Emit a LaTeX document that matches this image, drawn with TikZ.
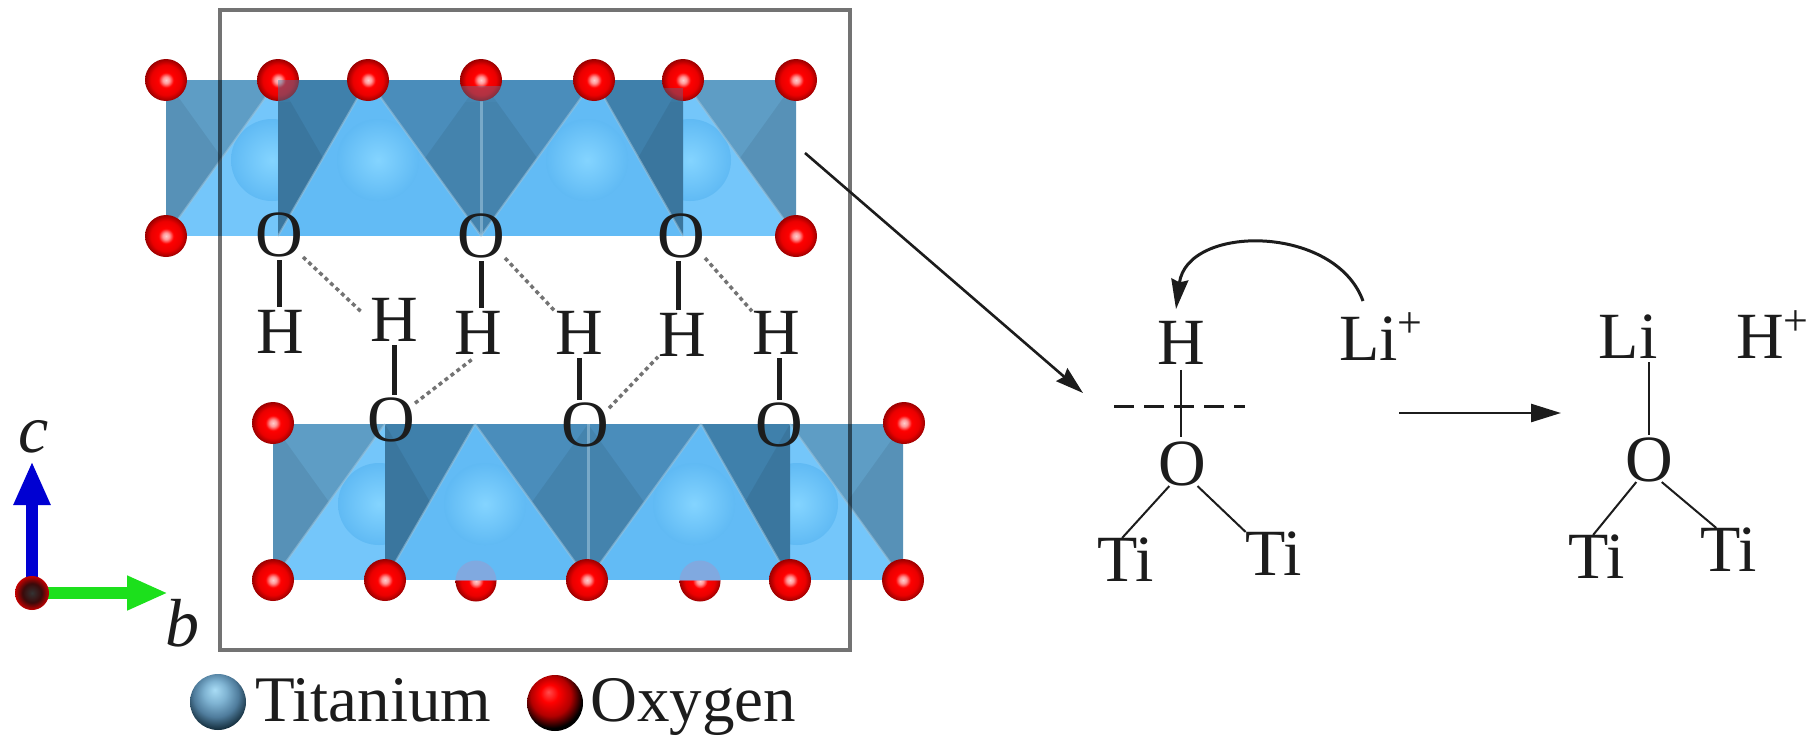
\documentclass[tikz,border=0pt]{standalone}
\usepackage{fontspec}
\setmainfont{Liberation Serif}
\usetikzlibrary{arrows.meta,calc}
\definecolor{ink}{HTML}{1C1C1C}
\definecolor{lightb}{HTML}{62BBF5}
\definecolor{sideb}{HTML}{74C6FA}
\definecolor{outerb}{HTML}{5E9DC5}
\definecolor{midb}{HTML}{4A8DBB}
\definecolor{deepb}{HTML}{3F80AB}
\definecolor{edgeb}{HTML}{9CC3DA}
\definecolor{axblue}{HTML}{0000D2}
\definecolor{axgreen}{HTML}{1CE01C}
\definecolor{tia}{HTML}{84D4FF}
\definecolor{tib}{HTML}{60BAF4}
\definecolor{lega}{HTML}{A9DCF5}
\definecolor{legb}{HTML}{7FB3D2}
\definecolor{legc}{HTML}{4F7C9C}
\definecolor{legd}{HTML}{16303F}
\definecolor{axa}{HTML}{333333}
\definecolor{axb}{HTML}{3A0A0A}
\definecolor{axc}{HTML}{C40000}
\definecolor{ghost}{HTML}{9A9BD0}
\pgfdeclareradialshading{redatom}{\pgfpoint{0bp}{0bp}}{color(0bp)=(red!20!white); color(4bp)=(red!40!white); color(9bp)=(red); color(18bp)=(red!92!black); color(25bp)=(red!60!black); color(50bp)=(red!60!black)}
\pgfdeclareradialshading{tiball}{\pgfpoint{0bp}{0bp}}{color(0bp)=(tia); color(25bp)=(tib); color(50bp)=(tib)}
\pgfdeclareradialshading{legti}{\pgfpoint{-3bp}{11bp}}{color(0bp)=(lega); color(10bp)=(legb); color(20bp)=(legc); color(29bp)=(legd); color(50bp)=(legd)}
\pgfdeclareradialshading{legox}{\pgfpoint{-6bp}{10bp}}{color(0bp)=(red!70!white); color(8bp)=(red); color(18bp)=(red!70!black); color(27bp)=(black); color(50bp)=(black)}
\pgfdeclareradialshading{axatom}{\pgfpoint{0bp}{0bp}}{color(0bp)=(axa); color(14bp)=(axb); color(25bp)=(axc); color(50bp)=(axc)}
\newcommand\polylayer{%
  \fill[lightb] (166,80) rectangle (796,236);
  \fill[sideb] (166,80) rectangle (278,236);
  \fill[sideb] (683,80) rectangle (796,236);
  \shade[shading=tiball] (272,160) circle (41pt);
  \shade[shading=tiball] (378,160) circle (41pt);
  \shade[shading=tiball] (587,160) circle (41pt);
  \shade[shading=tiball] (690,160) circle (41pt);
  \fill[outerb] (166,80) -- (278,80) -- (166,236) -- cycle;
  \fill[deepb] (278,80) -- (368,80) -- (278,236) -- cycle;
  \fill[midb] (368,80) -- (481,80) -- (481,236) -- cycle;
  \fill[midb] (481,80) -- (594,80) -- (481,236) -- cycle;
  \fill[deepb] (594,80) -- (683,80) -- (683,236) -- cycle;
  \fill[outerb] (683,80) -- (796,80) -- (796,236) -- cycle;
  \fill[black,opacity=.07] (166,80) -- (222,158) -- (166,236) -- cycle
    (278,80) -- (323,158) -- (278,236) -- cycle
    (481,80) -- (425,158) -- (481,236) -- cycle
    (481,80) -- (537,158) -- (481,236) -- cycle
    (683,80) -- (638,158) -- (683,236) -- cycle
    (796,80) -- (740,158) -- (796,236) -- cycle;
  \draw[edgeb,line width=2pt,opacity=.55]
    (166,236) -- (278,80) (278,236) -- (368,80) (368,80) -- (481,236)
    (481,236) -- (594,80) (594,80) -- (683,236) (683,80) -- (796,236);
  \draw[edgeb,line width=3pt,opacity=.6] (481,80) -- (481,236);
}
\tikzset{
  chem/.style={inner sep=0pt,text depth=0pt,text=ink,font=\fontsize{66}{70}\selectfont},
  chemsup/.style={inner sep=0pt,anchor=base west,text=ink,font=\fontsize{66}{70}\selectfont},
  axlabel/.style={inner sep=0pt,text=ink,font=\fontsize{68}{72}\selectfont\itshape},
  legendtext/.style={inner sep=0pt,anchor=base west,text=ink,font=\fontsize{65}{68}\selectfont},
  thickbond/.style={line width=5pt,draw=ink,shorten >=3pt,shorten <=3pt},
  hbond/.style={line width=3.5pt,draw=black!55,dash pattern=on 4pt off 3.5pt},
  thinbond/.style={line width=2pt,draw=ink},
  bigarrow/.style={line width=2.6pt,draw=ink,-{Stealth[length=28pt,width=17pt,inset=3pt]}}
}
\newcommand\supplus{\raisebox{23pt}{\fontsize{44}{44}\selectfont +}}
\begin{document}
\begin{tikzpicture}[x=1pt,y=-1pt]
\useasboundingbox (0,0) rectangle (1819,744);
% upper layer
\polylayer
\foreach \x in {278,481,683}{\shade[shading=redatom] (\x,80) circle (21pt);}
\fill[deepb,opacity=.45] (278,80) -- (299,80) -- (299,102) -- (278,102) -- cycle;
\fill[midb,opacity=.35] (460,86) -- (502,86) -- (502,102) -- (460,102) -- cycle;
\fill[deepb,opacity=.35] (662,88) -- (683,88) -- (683,102) -- (662,102) -- cycle;
\foreach \x in {166,368,594,796}{\shade[shading=redatom] (\x,80) circle (21pt);}
\foreach \x in {166,796}{\shade[shading=redatom] (\x,236) circle (21pt);}
% lower layer
\begin{scope}[shift={(107,344)}]
\polylayer
\end{scope}
\begin{scope}
\clip (440,580) rectangle (740,620);
\foreach \x in {476,700}{\shade[shading=redatom] (\x,581) circle (20.5pt);}
\end{scope}
\begin{scope}
\clip (440,540) rectangle (740,580);
\foreach \x in {476,700}{\fill[ghost,opacity=.55] (\x,581) circle (20.5pt);}
\end{scope}
\foreach \x in {273,904}{\shade[shading=redatom] (\x,423) circle (21pt);}
\foreach \x in {273,385,587,790,903}{\shade[shading=redatom] (\x,580) circle (21pt);}
% cell frame
\draw[black,opacity=.55,line width=4pt] (220,10) rectangle (850,650);
% hydroxyl labels
\node[chem] (O1) at (279,235) {O};
\node[chem] (O2) at (481,236) {O};
\node[chem] (O3) at (681,236) {O};
\node[chem] (H1) at (280,332) {H};
\node[chem] (H2) at (394,320) {H};
\node[chem] (H3) at (478,333) {H};
\node[chem] (H4) at (579,333) {H};
\node[chem] (H5) at (682,335) {H};
\node[chem] (H6) at (776,333) {H};
\node[chem] (O4) at (391,420) {O};
\node[chem] (O5) at (585,425) {O};
\node[chem] (O6) at (779,425) {O};
\draw[thickbond] (O1.south) -- (O1.south |- H1.north);
\draw[thickbond] (O2.south) -- (O2.south |- H3.north);
\draw[thickbond] ([xshift=-3pt]O3.south) -- ([xshift=-3pt]O3.south |- H5.north);
\draw[thickbond] (H2.south) -- (H2.south |- O4.north);
\draw[thickbond] (H4.south) -- (H4.south |- O5.north);
\draw[thickbond] (O6.north) -- (O6.north |- H6.south);
\draw[hbond,shorten >=12pt] (O1.south east) -- (H2.west);
\draw[hbond] (O2.south east) -- (H4.north west);
\draw[hbond] (O3.south east) -- (H6.north west);
\draw[hbond,shorten >=8pt] (O4.35) -- (H3.south);
\draw[hbond] (O5.35) -- (H5.south west);
% axes
\coordinate (orig) at (32,593);
\coordinate (ctip) at (32,461);
\coordinate (btip) at (168,593);
\draw[axblue,line width=12pt,-{Triangle[length=44pt,width=34pt]}] (orig) -- (ctip);
\draw[axgreen,line width=12pt,-{Triangle[length=41pt,width=32pt]}] (orig) -- (btip);
\shade[shading=axatom] (orig) circle (17pt);
\node[axlabel] (clabel) at (34,437) {c};
\node[axlabel] (blabel) at (182,623) {b};
% legend
\shade[shading=legti] (218,702) circle (28pt);
\node[legendtext] (legti) at (255,721) {Titanium};
\shade[shading=legox] (555,703) circle (28pt);
\node[legendtext] (legox) at (590,721) {Oxygen};
% mechanism
\coordinate (zoomstart) at (805,153);
\coordinate (zoomend) at (1083,393);
\draw[bigarrow] (zoomstart) -- (zoomend);
\node[chem] (Ha) at (1181,343) {H};
\node[chemsup] (Lip) at (1339,360) {Li\supplus};
\node[chem] (Oa) at (1182,464) {O};
\node[chem] (Tia) at (1126,560) {Ti};
\node[chem] (Tib) at (1274,554) {Ti};
\draw[thinbond,shorten <=5pt,shorten >=5pt] (Ha.south) -- (Ha.south |- Oa.north);
\draw[thinbond] (Oa.240) -- (Tia.100);
\draw[thinbond] (Oa.305) -- (Tib.north west);
\coordinate (cutl) at (1114,406);
\coordinate (cutr) at (1245,406);
\draw[line width=3pt,draw=ink,dash pattern=on 20pt off 10pt] (cutl) -- (cutr);
\coordinate (litop) at (1363,301);
\draw[line width=3pt,draw=ink,-{Stealth[length=30pt,width=17pt,inset=3pt]}]
  (litop) .. controls (1335,224) and (1187,224) .. ($(Ha.north)+(-5,-12)$);
\node[chem] (Lib) at (1628,337) {Li};
\node[chemsup] (Hp) at (1736,358) {H\supplus};
\node[chem] (Ob) at (1649,460) {O};
\node[chem] (Tic) at (1597,557) {Ti};
\node[chem] (Tid) at (1729,550) {Ti};
\draw[thinbond,shorten <=3pt,shorten >=3pt] (Ob.north |- Lib.south) -- (Ob.north);
\draw[thinbond] (Ob.240) -- (Tic.100);
\draw[thinbond] (Ob.300) -- (Tid.120);
\coordinate (reactl) at (1399,413);
\coordinate (reactr) at (1561,413);
\draw[bigarrow,-{Stealth[length=30pt,width=18pt,inset=0pt]}] (reactl) -- (reactr);
\end{tikzpicture}
\end{document}
